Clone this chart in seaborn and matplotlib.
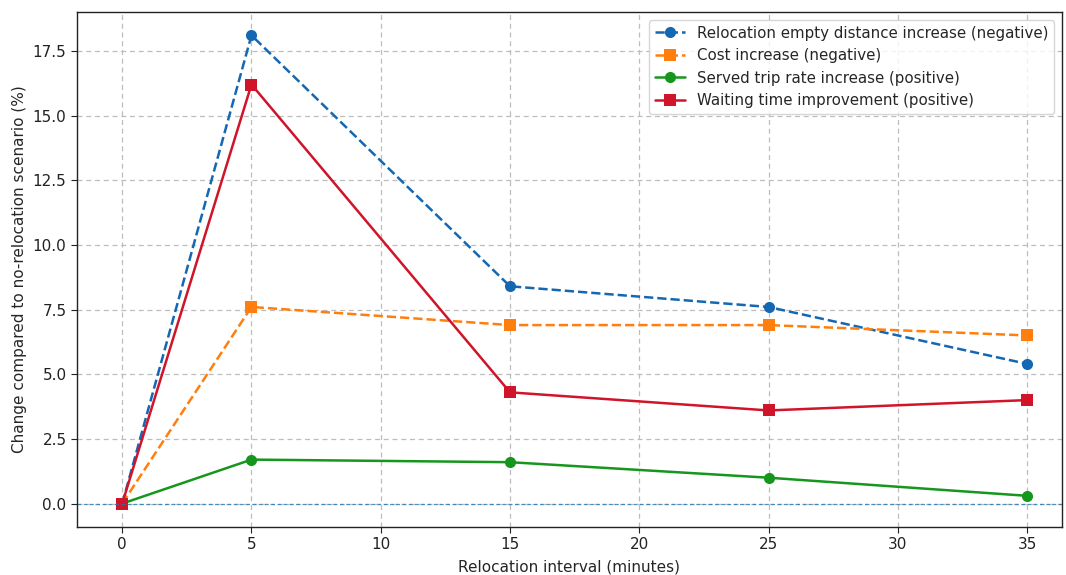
import matplotlib
matplotlib.use("Agg")
import matplotlib.pyplot as plt
import seaborn as sns
import pandas as pd

intervals = [0, 5, 15, 25, 35]
empty_distance = [0, 18.1, 8.4, 7.6, 5.4]
cost = [0, 7.6, 6.9, 6.9, 6.5]
served_rate = [0, 1.7, 1.6, 1.0, 0.3]
waiting = [0, 16.2, 4.3, 3.6, 4.0]

labels = [
    "Relocation empty distance increase (negative)",
    "Cost increase (negative)",
    "Served trip rate increase (positive)",
    "Waiting time improvement (positive)",
]
colors = ["#1467b3", "#ff7f0e", "#16961c", "#d0142a"]
markers = ["o", "s", "o", "s"]
styles = ["--", "--", "-", "-"]

sns.set_style("white")
plt.rcParams['font.family'] = ['DejaVu Sans']

fig = plt.figure(figsize=(10.66, 5.75), dpi=100)
ax = fig.add_axes([0.0722, 0.0835, 0.924, 0.8955])

for vals, lab, c, m, ls in zip([empty_distance, cost, served_rate, waiting], labels, colors, markers, styles):
    df = pd.DataFrame({"x": intervals, "y": vals})
    sns.lineplot(data=df, x="x", y="y", ax=ax, color=c, marker=m, linestyle=ls,
                 linewidth=1.8, markersize=8, markeredgewidth=0, legend=False)

handles = list(ax.lines[:4])
ax.axhline(0, color="#1f77b4", linestyle="--", linewidth=0.9, alpha=0.8, dashes=(3, 2))
ax.grid(True, linestyle="--", color="#bdbdbd", linewidth=0.9, dashes=(4, 3))
ax.set_xticks([0, 5, 10, 15, 20, 25, 30, 35])
ax.set_xlim(-1.75, 36.35)
ax.set_ylim(-0.905, 19.0)
ax.set_yticks([0, 2.5, 5.0, 7.5, 10.0, 12.5, 15.0, 17.5])
ax.tick_params(labelsize=11, length=4, width=0.8, colors="#222222", direction="out")
ax.tick_params(axis="both", which="both", left=True, bottom=True)
ax.set_xlabel("Relocation interval (minutes)", fontsize=11, labelpad=5)
ax.set_ylabel("Change compared to no-relocation scenario (%)", fontsize=11)
for s in ax.spines.values():
    s.set_color("#222222")
    s.set_linewidth(1.0)
leg = ax.legend(handles, labels, loc="upper right", fontsize=10.8, frameon=True, fancybox=True,
                borderpad=0.4, handlelength=2.0)
leg.get_frame().set_edgecolor("#cccccc")

fig.savefig("out.png", dpi=100)
